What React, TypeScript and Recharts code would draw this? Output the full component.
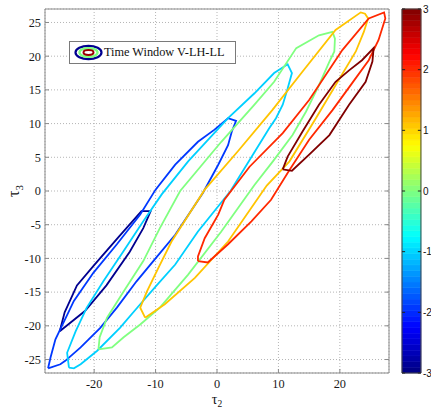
import React from "react";
import {
  ScatterChart,
  Scatter,
  XAxis,
  YAxis,
  CartesianGrid,
  ReferenceArea,
  ReferenceLine,
} from "recharts";

type Pt = [number, number];

const X_TICKS = [-20, -10, 0, 10, 20];
const Y_TICKS = [-25, -20, -15, -10, -5, 0, 5, 10, 15, 20, 25];
const CBAR_TICKS = [-3, -2, -1, 0, 1, 2, 3];

const LEVELS = [-3, -2, -1, 0, 1, 2, 3];
const LEVEL_COLORS = ["#00008f", "#0038ff", "#00d0ff", "#80ff80", "#ffc400", "#ff2800", "#800000"];

// contour loops, one per level (tau2, tau3)
const loopM3: Pt[] = [
  [-25.6, -20.8], [-24.8, -18], [-22.8, -14], [-20, -11], [-16, -6.8], [-12.3, -3],
  [-10.8, -3], [-12, -5.5], [-14.2, -9], [-18, -14], [-21.5, -17.8], [-25.6, -20.8],
];
const loopM2: Pt[] = [
  [-27.5, -26.3], [-27.1, -24.7], [-26.3, -22], [-25.5, -20.5], [-23.3, -16.3], [-20.1, -12.1],
  [-16.3, -7.9], [-12.5, -3.5], [-10, 0.2], [-6.8, 3.9], [-3.1, 7.3], [-0.4, 9.1], [1.8, 10.8],
  [3.1, 10.4], [2.4, 8.8], [1.8, 6.8], [0.2, 3.9], [-2.3, -0.3], [-6.8, -6.5], [-10, -10],
  [-13.1, -13.4], [-16.3, -17.3], [-19, -20.3], [-22.2, -23.2], [-24.7, -25.2], [-25.5, -25.7],
  [-27.5, -26.3],
];
const loopM1: Pt[] = [
  [-24.1, -26.2], [-24.4, -24], [-23, -20.8], [-21.2, -17.3], [-18.5, -13.4], [-15.2, -8.9],
  [-12, -4.5], [-9, -0.5], [-4.7, 4.4], [1.8, 10.8], [6.1, 14.5], [9.3, 17.5], [11.5, 18.8],
  [12.2, 17.5], [11.5, 15.2], [10.7, 12.8], [9.6, 10.8], [8.5, 9.3], [2.2, 0], [-3.1, -6],
  [-6.8, -10.9], [-10, -14.2], [-12.5, -16.8], [-15.8, -20.3], [-19.5, -23.7], [-22.2, -25.7],
  [-23.3, -26.3], [-24.1, -26.2],
];
const loop0: Pt[] = [
  [-19.3, -23.5], [-19.1, -21.7], [-17.9, -18.8], [-15.2, -14.9], [-12, -10.4], [-9.3, -5.5],
  [-6, 0], [0.7, 7.3], [6.1, 12.8], [9.3, 16.2], [12.9, 21.2], [16.6, 23.1], [18.8, 23.6],
  [19.2, 22.6], [19.1, 20.7], [18.3, 19.2], [16.6, 15.7], [14.5, 11.8], [12.3, 8.3], [9.1, 4.4],
  [6.1, 0.9], [0.7, -6], [-4.7, -12.4], [-9.3, -17.3], [-12.5, -19.8], [-15.2, -21.7],
  [-17.1, -23.2], [-19.3, -23.5],
];
const loopP1: Pt[] = [
  [-11.7, -18.8], [-12.5, -17.3], [-11.4, -14.9], [-9.6, -11.5], [-7.4, -7.5], [-2, 0.2],
  [3.4, 5.9], [9, 12], [13.9, 17.7], [19.3, 23.9], [23.4, 26.5], [24.1, 26.3], [24.6, 25.6],
  [23.9, 23.6], [22.6, 20.7], [19.3, 15.7], [16.1, 10.8], [11.8, 4.4], [8.1, 0.8], [1.8, -7.5],
  [-3.6, -12.9], [-8.5, -16.8], [-10.1, -17.8], [-11.7, -18.8],
];
const loopP2: Pt[] = [
  [-3.1, -10.4], [-3.1, -9.7], [-2, -7], [0.2, -3.5], [1.2, -1.3], [5.3, 3.6], [10.7, 8.6],
  [15, 13.5], [20.4, 20.9], [24.7, 25.6], [27.2, 26.5], [27.4, 25.6], [26.3, 22.4], [24.7, 19.4],
  [22, 16], [18.8, 12], [15, 7.6], [11.8, 3.1], [8.8, -1.3], [5.6, -4.5], [1.8, -7.9],
  [-1.5, -10.6], [-3.1, -10.4],
];
const loopP3: Pt[] = [
  [10.7, 3.2], [11.5, 5.1], [13.9, 8.8], [16.6, 12.8], [19.3, 16.2], [21.5, 17.9], [23.6, 19.4],
  [25.5, 21.2], [25.3, 19.2], [24.2, 16.2], [21.5, 12.8], [18.3, 8.3], [15, 5.4], [12.2, 3.0],
  [10.7, 3.2],
];

const LOOPS = [loopM3, loopM2, loopM1, loop0, loopP1, loopP2, loopP3];

const SERIF = "'Liberation Serif', 'Times New Roman', serif";
const SANS = "'Liberation Sans', Arial, sans-serif";

// colorbar sits to the right of the plot; its left/right edges in tau2 units
const CBAR_X1 = 30.12;
const CBAR_X2 = 33.2;
const CBAR_TICK_LEN = 0.5;
const FRAME_TICK_LEN = 0.65;

function jet(t: number) {
  const c = (v: number) => Math.round(255 * Math.max(0, Math.min(1, v)));
  const r = c(Math.min(4 * t - 1.5, -4 * t + 4.5));
  const g = c(Math.min(4 * t - 0.5, -4 * t + 3.5));
  const b = c(Math.min(4 * t + 0.5, -4 * t + 2.5));
  return `rgb(${r},${g},${b})`;
}

const CBAR_STEPS = 64;
const cbarBands = Array.from({ length: CBAR_STEPS }, (_, i) => ({
  y1: -3 + (6 * i) / CBAR_STEPS,
  y2: -3 + (6 * (i + 1)) / CBAR_STEPS,
  color: jet((i + 0.5) / CBAR_STEPS),
}));

const noDot = () => <g />;

function TauLabel(props: any) {
  const vb = props.viewBox || {};
  if (props.vertical) {
    const cx = 19;
    const cy = (vb.y ?? 9) + (vb.height ?? 364) / 2;
    return (
      <text
        x={cx}
        y={cy}
        transform={`rotate(-90 ${cx} ${cy})`}
        textAnchor="middle"
        fontFamily={SERIF}
        fontSize={16}
        fill="#111"
      >
        τ<tspan dy={4} fontSize={11}>{props.sub}</tspan>
      </text>
    );
  }
  const cx = (vb.x ?? 45) + (vb.width ?? 344) / 2;
  return (
    <text x={cx} y={404} textAnchor="middle" fontFamily={SERIF} fontSize={14} fill="#111">
      τ<tspan dy={2.5} fontSize={9.5}>{props.sub}</tspan>
    </text>
  );
}

function LegendBox() {
  return (
    <div
      style={{
        position: "absolute",
        left: 69,
        top: 41,
        width: 167,
        height: 23,
        boxSizing: "border-box",
        border: "1px solid #7a7a7a",
        background: "#fff",
        display: "flex",
        alignItems: "center",
        fontFamily: SERIF,
        fontSize: 12.3,
        color: "#111",
        whiteSpace: "nowrap",
      }}
    >
      <svg width={33} height={17} style={{ marginLeft: 2, display: "block" }}>
        <ellipse cx={16.5} cy={8.5} rx={13} ry={6.6} fill="#fff" stroke={LEVEL_COLORS[0]} strokeWidth={2.2} />
        <ellipse cx={16.5} cy={8.5} rx={9} ry={4.4} fill="none" stroke={LEVEL_COLORS[3]} strokeWidth={2.4} />
        <ellipse cx={16.5} cy={8.5} rx={5} ry={2.4} fill="none" stroke="#9a0000" strokeWidth={2} />
      </svg>
      <span style={{ marginLeft: -1 }}>Time Window V-LH-LL</span>
    </div>
  );
}

export default function App() {
  const tickStyle = { fontFamily: SERIF, fontSize: 12.3, fill: "#1a1a1a" };
  return (
    <div style={{ position: "absolute", left: 0, top: 0, width: 431, height: 408, background: "#fff" }}>
      <ScatterChart width={431} height={408} margin={{ top: 8, right: 1, bottom: 5, left: 8 }}>
        <CartesianGrid stroke="#b5b5b5" strokeDasharray="1 2" />
        <XAxis
          type="number"
          dataKey="x"
          domain={[-28, 28]}
          ticks={X_TICKS}
          allowDataOverflow
          height={30}
          stroke="#8a8a8a"
          tickSize={-4}
          tickMargin={10}
          tick={tickStyle}
          label={<TauLabel sub="2" />}
        />
        <XAxis
          xAxisId="top"
          orientation="top"
          type="number"
          domain={[-28, 28]}
          ticks={X_TICKS}
          allowDataOverflow
          height={1}
          stroke="#8a8a8a"
          tickSize={-4}
          tick={false}
        />
        <YAxis
          type="number"
          dataKey="y"
          domain={[-27, 27]}
          ticks={Y_TICKS}
          allowDataOverflow
          width={37}
          stroke="#8a8a8a"
          tickSize={-4}
          tickMargin={8}
          tick={tickStyle}
          label={<TauLabel sub="3" vertical />}
        />
        <YAxis
          yAxisId="cbar"
          orientation="right"
          type="number"
          domain={[-3, 3]}
          ticks={CBAR_TICKS}
          allowDataOverflow
          width={41}
          stroke="#8a8a8a"
          tickLine={false}
          tickSize={0}
          tickMargin={34}
          tick={{ fontFamily: SANS, fontSize: 10, fill: "#111" }}
        />
        {Y_TICKS.map((v) => (
          <ReferenceLine
            key={`fr-${v}`}
            segment={[{ x: 28 - FRAME_TICK_LEN, y: v }, { x: 28, y: v }]}
            stroke="#8a8a8a"
          />
        ))}
        {LOOPS.map((loop, i) => (
          <Scatter
            key={LEVELS[i]}
            name={`level ${LEVELS[i]}`}
            data={loop.map(([x, y]) => ({ x, y }))}
            line={{ stroke: LEVEL_COLORS[i], strokeWidth: 1.8 }}
            lineJointType="linear"
            shape={noDot}
            isAnimationActive={false}
          />
        ))}
        {cbarBands.map((b, i) => (
          <ReferenceArea
            key={`band-${i}`}
            yAxisId="cbar"
            x1={CBAR_X1}
            x2={CBAR_X2}
            y1={b.y1}
            y2={b.y2}
            ifOverflow="visible"
            fill={b.color}
            fillOpacity={1}
            stroke={b.color}
            strokeWidth={0.6}
          />
        ))}
        {CBAR_TICKS.map((v) => (
          <ReferenceLine
            key={`tl-${v}`}
            yAxisId="cbar"
            ifOverflow="visible"
            segment={[{ x: CBAR_X1, y: v }, { x: CBAR_X1 + CBAR_TICK_LEN, y: v }]}
            stroke="#222"
          />
        ))}
        {CBAR_TICKS.map((v) => (
          <ReferenceLine
            key={`tr-${v}`}
            yAxisId="cbar"
            ifOverflow="visible"
            segment={[{ x: CBAR_X2 - CBAR_TICK_LEN, y: v }, { x: CBAR_X2, y: v }]}
            stroke="#222"
          />
        ))}
        <ReferenceArea
          yAxisId="cbar"
          x1={CBAR_X1}
          x2={CBAR_X2}
          y1={-3}
          y2={3}
          ifOverflow="visible"
          fill="none"
          stroke="#444"
          strokeWidth={1}
        />
      </ScatterChart>
      <LegendBox />
    </div>
  );
}
